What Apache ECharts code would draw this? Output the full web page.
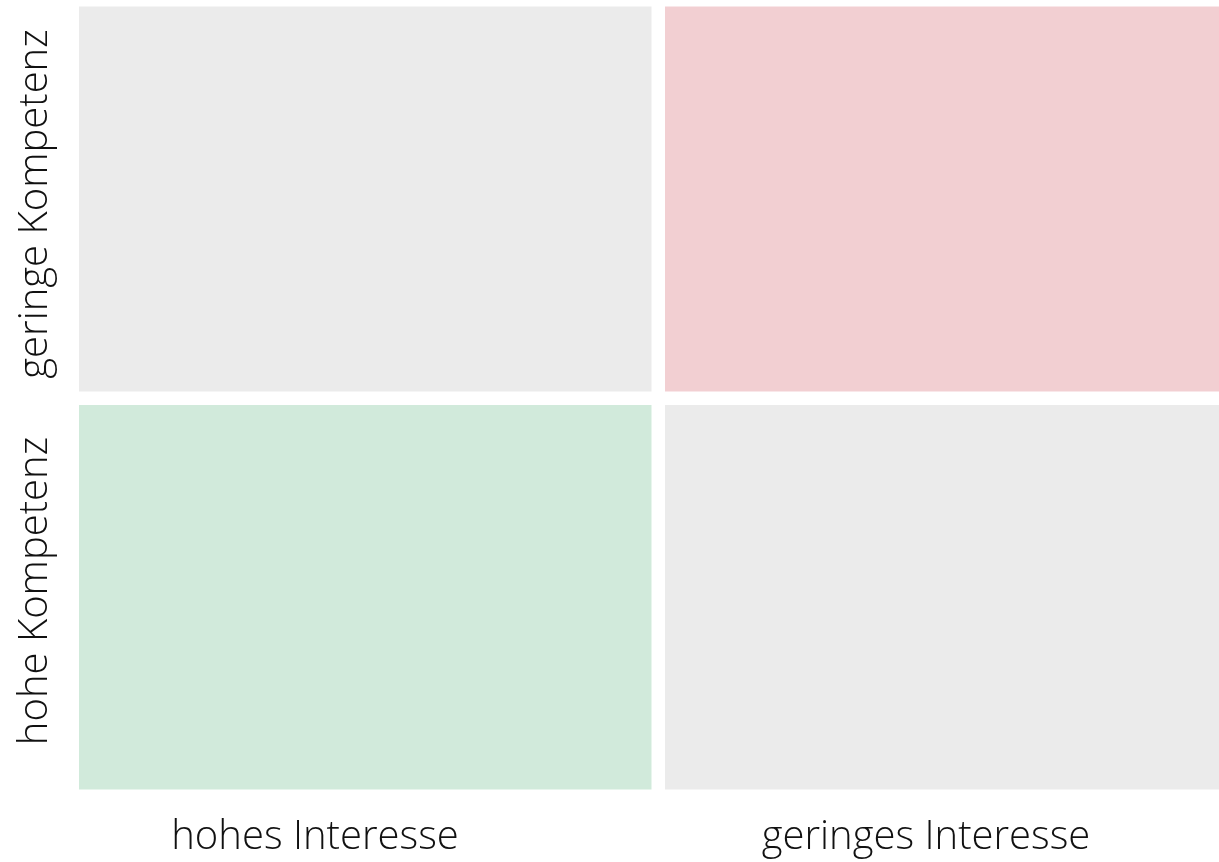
<!DOCTYPE html>
<html>
<head>
<meta charset="utf-8">
<script src="https://cdn.jsdelivr.net/npm/echarts@6/dist/echarts.min.js"></script>
<style>
  html, body { margin: 0; padding: 0; background: #ffffff; }
  #chart { width: 1219px; height: 862px; }
</style>
</head>
<body>
<div id="chart"></div>
<script>
// Categories
const interestCategories = ['hohes Interesse', 'geringes Interesse'];
const competenceCategories = ['hohe Kompetenz', 'geringe Kompetenz'];
// Cell rating: 1 = favourable, 0 = neutral, -1 = unfavourable
// [interestIndex, competenceIndex, rating]
const cellRatings = [
  [0, 0, 1],
  [1, 0, 0],
  [0, 1, 0],
  [1, 1, -1]
];

const chart = echarts.init(document.getElementById('chart'), null, { renderer: 'canvas' });
const fontFamily = '"Open Sans", Roboto, sans-serif';
const fw = 300;
const fs = 40;

const option = {
  backgroundColor: '#ffffff',
  animation: false,
  grid: { left: 72.5, width: 1172, top: 0, height: 796, containLabel: false, outerBoundsMode: 'none' },
  xAxis: {
    type: 'category',
    data: interestCategories,
    axisLine: { show: false },
    axisTick: { show: false },
    splitLine: { show: false },
    axisLabel: {
      interval: 0,
      margin: 22,
      fontFamily: fontFamily,
      fontWeight: fw,
      fontSize: fs,
      color: '#111111',
      formatter: function (v, i) { return i === 0 ? '{a|' + v + '}' : '{b|' + v + '}'; },
      rich: {
        a: { fontFamily: fontFamily, fontWeight: fw, fontSize: fs, color: '#111111', padding: [0, 101, 0, 0] },
        b: { fontFamily: fontFamily, fontWeight: fw, fontSize: fs, color: '#111111', padding: [0, 51, 0, 0] }
      }
    }
  },
  yAxis: {
    type: 'category',
    data: competenceCategories,
    axisLine: { show: false },
    axisTick: { show: false },
    splitLine: { show: false },
    axisLabel: {
      interval: 0,
      rotate: 90,
      margin: 17,
      fontFamily: fontFamily,
      fontWeight: fw,
      fontSize: fs,
      color: '#111111',
      formatter: function (v, i) { return i === 0 ? '{a|' + v + '}' : '{b|' + v + '}'; },
      rich: {
        a: { fontFamily: fontFamily, fontWeight: fw, fontSize: fs, color: '#111111', padding: [0, 0, 0, 12] },
        b: { fontFamily: fontFamily, fontWeight: fw, fontSize: fs, color: '#111111', padding: [0, 10, 0, 0] }
      }
    }
  },
  visualMap: {
    show: false,
    type: 'piecewise',
    dimension: 2,
    pieces: [
      { value: 1, color: '#d1eadb' },
      { value: 0, color: '#ebebeb' },
      { value: -1, color: '#f2cfd2' }
    ]
  },
  series: [{
    type: 'heatmap',
    data: cellRatings,
    itemStyle: { borderColor: '#ffffff', borderWidth: 13.5 },
    emphasis: { disabled: true },
    label: { show: false }
  }]
};

chart.setOption(option);
</script>
</body>
</html>
